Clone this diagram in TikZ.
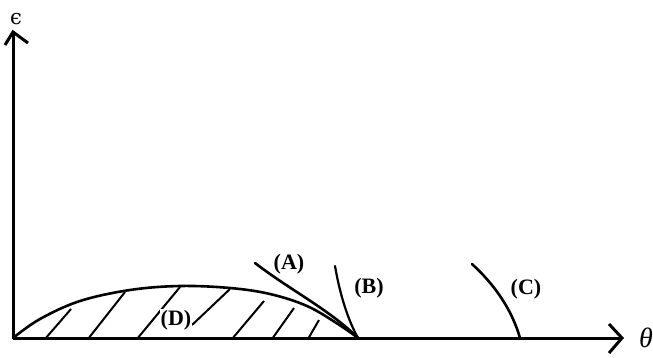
\documentclass[tikz,border=0pt]{standalone}
\usepackage{fontspec}
\setmainfont{Liberation Serif}
\newfontfamily\grkfont{DejaVu Serif}
\begin{document}
\begin{tikzpicture}[x=1pt,y=-1pt,
  axis/.style={line width=3pt},
  curveline/.style={line width=2.6pt,line cap=round},
  hatch/.style={line width=2pt},
  lbl/.style={font=\fontsize{22}{22}\selectfont\bfseries,inner sep=0pt}]
\useasboundingbox (0,0) rectangle (653,357);
% axes
\coordinate (O) at (13,338);
\coordinate (ytop) at (13,32);
\coordinate (xend) at (622,338);
\draw[axis] (O) -- (ytop);
\draw[axis] (O) -- (xend);
\draw[axis,line join=miter] (5,45) -- (ytop) -- (28,43);
\draw[axis,line join=miter] (609,324) -- (xend) -- (609,353);
\node[inner sep=0pt,font=\grkfont\fontsize{21}{21}\selectfont] (eps) at (16,19) {ϵ};
\node[inner sep=0pt,font=\fontsize{28}{28}\selectfont\itshape] (theta) at (646,338) {θ};
% dome
\draw[curveline] plot[smooth,tension=0.6] coordinates {(13,338) (40,319) (80,301) (130,290) (180,286) (230,288) (270,294) (307,306) (338,324) (358,338)};
% hatching
\draw[hatch] (45,339) -- (71,309);
\draw[hatch] (88,339) -- (125,292);
\draw[hatch] (137,339) -- (180,287);
\draw[hatch] (192,325) -- (230,289);
\draw[hatch] (232,339) -- (264,301);
\draw[hatch] (272,339) -- (294,308);
\draw[hatch] (308,339) -- (319,320);
% curve A
\draw[curveline] (255,263) .. controls (290,290) and (330,310) .. (358,338);
% curve B
\draw[curveline,line width=2.2pt] (335,266) .. controls (340,295) and (348,320) .. (358,338);
% curve C
\draw[curveline] (472,264) .. controls (495,285) and (512,310) .. (520,338);
% labels
\node[lbl] (A) at (289,264) {(A)};
\node[lbl] (B) at (369,288) {(B)};
\node[lbl] (C) at (526,289) {(C)};
\node[lbl,fill=white,inner sep=1pt] (D) at (176,320) {(D)};
\end{tikzpicture}
\end{document}
